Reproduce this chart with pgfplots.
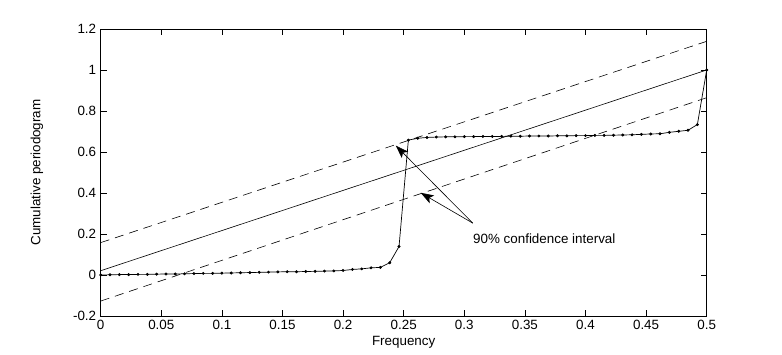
\documentclass[border=0pt]{standalone}
\usepackage{pgfplots}
\pgfplotsset{compat=1.18}
\usepackage{fontspec}
\setmainfont{Liberation Sans}
\usetikzlibrary{arrows.meta}
\begin{document}
\begin{tikzpicture}[font=\fontsize{13.4pt}{15pt}\selectfont]
\begin{axis}[
  at={(0,0)}, anchor=south west,
  scale only axis, width=606pt, height=287pt,
  xmin=0, xmax=0.5, ymin=-0.2, ymax=1.2,
  xtick={0,0.05,0.1,0.15,0.2,0.25,0.3,0.35,0.4,0.45,0.5},
  xticklabels={0,0.05,0.1,0.15,0.2,0.25,0.3,0.35,0.4,0.45,0.5},
  ytick={-0.2,0,0.2,0.4,0.6,0.8,1,1.2},
  yticklabels={-0.2,0,0.2,0.4,0.6,0.8,1,1.2},
  tick align=inside, major tick length=6pt,
  xtick pos=both, ytick pos=both,
  tick style={black, line width=0.5pt},
  axis line style={line width=0.6pt},
  xlabel={Frequency}, ylabel={Cumulative periodogram},
  xlabel style={at={(axis description cs:0.5,0)}, anchor=north, yshift=-17pt},
  ylabel style={at={(axis description cs:0,0.5)}, anchor=south, xshift=0pt, yshift=54pt},
  xticklabel style={yshift=-1pt},
  yticklabel style={xshift=-1pt},
  clip=false,
]
\addplot[black, line width=0.6pt] coordinates {(0,0.021) (0.5,1.0)};
\addplot[black, line width=0.6pt, dash pattern=on 9pt off 6pt] coordinates {(0,0.158) (0.5,1.14)};
\addplot[black, line width=0.6pt, dash pattern=on 9pt off 6pt] coordinates {(0,-0.127) (0.5,0.865)};
\addplot[black, line width=0.7pt, mark=*, mark size=1.1pt] table[x expr=\thisrow{k}/130, y=v] {
k v
0 0
1 0.001
2 0.002
3 0.002
4 0.003
5 0.003
6 0.004
7 0.005
8 0.005
9 0.006
10 0.007
11 0.008
12 0.008
13 0.009
14 0.010
15 0.011
16 0.012
17 0.013
18 0.014
19 0.015
20 0.016
21 0.016
22 0.017
23 0.018
24 0.019
25 0.020
26 0.022
27 0.027
28 0.030
29 0.035
30 0.037
31 0.060
32 0.139
33 0.658
34 0.667
35 0.671
36 0.673
37 0.674
38 0.674
39 0.675
40 0.675
41 0.676
42 0.676
43 0.676
44 0.677
45 0.677
46 0.678
47 0.678
48 0.678
49 0.679
50 0.679
51 0.680
52 0.680
53 0.681
54 0.681
55 0.682
56 0.683
57 0.684
58 0.686
59 0.688
60 0.689
61 0.696
62 0.701
63 0.706
64 0.734
65 1.0
};
\draw[black, line width=0.6pt, -{Stealth[length=13pt,width=9pt,inset=3pt]}] (axis cs:0.307,0.253) -- (axis cs:0.2435,0.631);
\draw[black, line width=0.6pt, -{Stealth[length=13pt,width=9pt,inset=3pt]}] (axis cs:0.307,0.253) -- (axis cs:0.264,0.401);
\node[anchor=center] at (axis cs:0.366,0.177) {90\% confidence interval};
\end{axis}
\path[use as bounding box] (-100.7pt,-38pt) rectangle (681.3pt,316pt);
\end{tikzpicture}
\end{document}
